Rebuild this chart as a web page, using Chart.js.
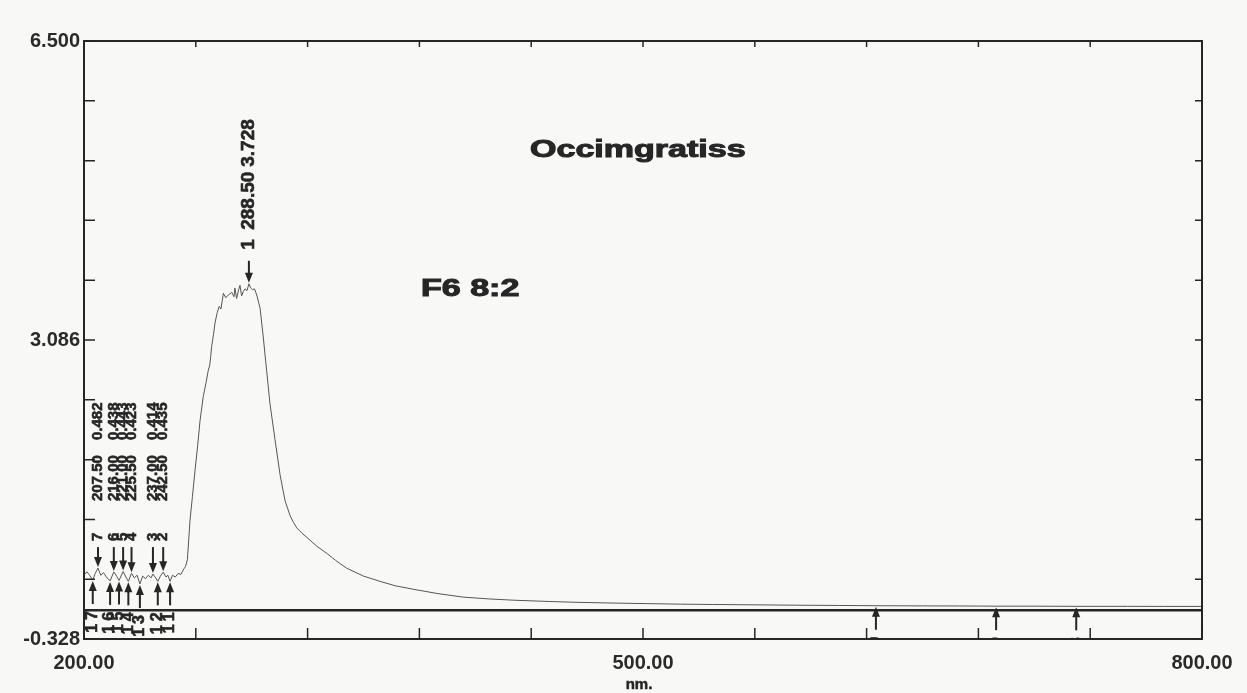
<!DOCTYPE html>
<html>
<head>
<meta charset="utf-8">
<title>Occimgratiss F6 8:2</title>
<script src="https://cdn.jsdelivr.net/npm/chart.js@4.4.1/dist/chart.umd.min.js"></script>
<style>
html, body { margin: 0; padding: 0; background: #f8f8f6; }
canvas { display: block; }
</style>
</head>
<body>
<canvas id="spectrum" width="1247" height="693"></canvas>
<script>
// UV-Vis scan, wavelength in nm and absorbance
const wavelengths = [
  200.0, 201.5, 203.0, 204.7, 206.0, 207.5, 209.0, 210.5, 212.0, 214.0,
  216.0, 217.5, 218.8, 221.0, 222.5, 223.8, 225.5, 227.0, 228.5, 230.0,
  231.5, 233.0, 234.5, 236.0, 237.0, 238.5, 239.6, 241.0, 242.5, 244.0,
  245.0, 246.2, 247.5, 249.0, 250.5, 252.0, 253.5, 254.5, 255.5, 256.9,
  258.2, 259.6, 261.0, 262.3, 264.0, 265.5, 266.7, 267.5, 268.0, 268.5,
  269.5, 270.3, 271.5, 272.6, 273.5, 274.8, 276.0, 277.5, 279.3, 280.5,
  281.0, 281.9, 283.0, 283.7, 284.6, 285.5, 286.4, 287.5, 288.5, 289.5,
  290.5, 291.5, 292.7, 294.5, 296.2, 298.0, 299.8, 302.5, 305.2, 307.9,
  310.6, 312.5, 314.2, 317.0, 321.3, 325.0, 330.3, 335.0, 341.0, 350.0,
  358.9, 367.0, 376.7, 390.0, 403.6, 417.0, 430.4, 450.0, 466.2, 485.0,
  502.0, 520.0, 537.8, 560.0, 582.5, 605.0, 625.0, 650.0, 670.0, 689.5,
  710.0, 732.5, 760.0, 780.0, 800.0
];
const absorbance = [
  0.400, 0.440, 0.400, 0.345, 0.420, 0.482, 0.400, 0.430, 0.380, 0.335,
  0.438, 0.390, 0.340, 0.443, 0.380, 0.330, 0.423, 0.370, 0.400, 0.300,
  0.390, 0.360, 0.400, 0.370, 0.414, 0.370, 0.330, 0.390, 0.435, 0.380,
  0.400, 0.330, 0.400, 0.380, 0.420, 0.410, 0.470, 0.500, 0.580, 1.030,
  1.300, 1.600, 1.880, 2.170, 2.440, 2.600, 2.740, 2.800, 2.900, 3.010,
  3.150, 3.280, 3.400, 3.470, 3.440, 3.620, 3.570, 3.600, 3.630, 3.580,
  3.680, 3.560, 3.660, 3.710, 3.590, 3.640, 3.670, 3.650, 3.728, 3.680,
  3.660, 3.670, 3.600, 3.450, 3.120, 2.740, 2.360, 1.950, 1.550, 1.250,
  1.080, 1.000, 0.940, 0.880, 0.800, 0.730, 0.650, 0.570, 0.480, 0.390,
  0.330, 0.280, 0.240, 0.190, 0.150, 0.130, 0.115, 0.100, 0.090, 0.082,
  0.076, 0.070, 0.066, 0.062, 0.058, 0.055, 0.052, 0.050, 0.049, 0.047,
  0.047, 0.045, 0.045, 0.044, 0.044
];

// picked peaks (down arrows) and valleys (up arrows)
const peakNo = [1, 2, 3, 4, 5, 6, 7];
const peakNm = [288.5, 242.5, 237.0, 225.5, 221.0, 216.0, 207.5];
const peakAbs = [3.728, 0.435, 0.414, 0.423, 0.443, 0.438, 0.482];

const valleyNo = [8, 9, 10, 11, 12, 13, 14, 15, 16, 17];
const valleyNm = [732.5, 689.5, 625.0, 246.2, 239.6, 230.0, 223.8, 218.8, 214.0, 204.7];
const valleyAbs = [0.045, 0.047, 0.052, 0.330, 0.330, 0.300, 0.330, 0.340, 0.335, 0.345];

// axis ticks
const xTicks = [200, 260, 320, 380, 440, 500, 560, 620, 680, 740, 800];
const xLabelled = [200, 500, 800];
const yTicks = [-0.328, 0.355, 1.037, 1.720, 2.403, 3.086, 3.769, 4.452, 5.134, 5.817, 6.500];
const yLabelled = [-0.328, 3.086, 6.500];

const ink = '#262626';
const fontFamily = '"Liberation Sans", Arial, sans-serif';
const spectrumPoints = wavelengths.map((w, i) => ({ x: w, y: absorbance[i] }));

// heavy text: fill plus a thin stroke of the same colour
function heavyText(ctx, text, x, y, weight) {
    ctx.lineWidth = weight;
    ctx.strokeText(text, x, y);
    ctx.fillText(text, x, y);
}

function vText(ctx, text, x, yBottom, font, spacing) {
    ctx.save();
    ctx.translate(x, yBottom);
    ctx.rotate(-Math.PI / 2);
    ctx.font = font;
    ctx.letterSpacing = spacing || '0px';
    ctx.textAlign = 'left';
    ctx.textBaseline = 'middle';
    heavyText(ctx, text, 0, 0, 0.6);
    ctx.restore();
}

function textWidth(ctx, text, font, spacing) {
    ctx.save();
    ctx.font = font;
    ctx.letterSpacing = spacing || '0px';
    const w = ctx.measureText(text).width;
    ctx.restore();
    return w;
}

function arrow(ctx, x, yFrom, yTo) {
    const dir = yTo > yFrom ? 1 : -1;
    ctx.beginPath();
    ctx.moveTo(x, yFrom);
    ctx.lineTo(x, yTo - dir * 6);
    ctx.stroke();
    ctx.beginPath();
    ctx.moveTo(x, yTo);
    ctx.lineTo(x - 4, yTo - dir * 10);
    ctx.lineTo(x + 4, yTo - dir * 10);
    ctx.closePath();
    ctx.fill();
}

const overlay = {
    id: 'overlay',
    afterDraw(chart) {
        const { ctx, chartArea: a, scales } = chart;
        const xs = scales.x, ys = scales.y;
        ctx.save();
        ctx.strokeStyle = ink;
        ctx.fillStyle = ink;

        // frame + inward ticks
        ctx.lineWidth = 2;
        ctx.strokeRect(a.left, a.top, a.right - a.left, a.bottom - a.top);
        ctx.lineWidth = 1.5;
        xTicks.forEach(v => {
            const px = xs.getPixelForValue(v);
            ctx.beginPath();
            ctx.moveTo(px, a.bottom); ctx.lineTo(px, a.bottom - 11);
            ctx.moveTo(px, a.top); ctx.lineTo(px, a.top + 6);
            ctx.stroke();
        });
        yTicks.forEach(v => {
            const py = ys.getPixelForValue(v);
            ctx.beginPath();
            ctx.moveTo(a.left, py); ctx.lineTo(a.left + 11, py);
            ctx.moveTo(a.right, py); ctx.lineTo(a.right - 7, py);
            ctx.stroke();
        });

        // peak markers
        const smallMax = Math.max(...peakAbs.filter(v => v < 1));
        const rowY = ys.getPixelForValue(smallMax);
        peakNo.forEach((n, i) => {
            const px = xs.getPixelForValue(peakNm[i]);
            const tip = ys.getPixelForValue(peakAbs[i]) - 1;
            ctx.lineWidth = 2;
            if (peakAbs[i] > 1) {
                arrow(ctx, px, tip - 22, tip);
                const b = tip - 33;
                const f = 'bold 19px ' + fontFamily;
                vText(ctx, String(n), px, b, f);
                vText(ctx, peakNm[i].toFixed(2), px, b - 20, f);
                vText(ctx, peakAbs[i].toFixed(3), px, b - 83, f);
            } else {
                arrow(ctx, px, rowY - 21, tip);
                const b = rowY - 27;
                const f = 'bold 15px ' + fontFamily;
                vText(ctx, String(n), px, b, f);
                vText(ctx, peakNm[i].toFixed(2), px, b - 40, f);
                vText(ctx, peakAbs[i].toFixed(3), px, b - 101, f);
            }
        });

        // valley markers, labels clipped at the frame
        ctx.save();
        ctx.beginPath();
        ctx.rect(a.left, a.top, a.right - a.left, a.bottom - a.top - 1);
        ctx.clip();
        const vf = 'bold 16px ' + fontFamily;
        valleyNo.forEach((n, i) => {
            const px = xs.getPixelForValue(valleyNm[i]);
            const tip = ys.getPixelForValue(valleyAbs[i]) + 1;
            ctx.lineWidth = 2;
            arrow(ctx, px, tip + 23, tip);
            const label = String(n);
            const w = textWidth(ctx, label, vf, '4px');
            vText(ctx, label, px, tip + 26 + w, vf, '4px');
        });
        ctx.restore();

        // sample captions
        ctx.font = 'bold 23px ' + fontFamily;
        ctx.textBaseline = 'alphabetic';
        ctx.textAlign = 'left';
        ctx.save();
        ctx.translate(530, 157);
        ctx.scale(1.48, 1);
        heavyText(ctx, 'Occimgratiss', 0, 0, 1);
        ctx.restore();
        ctx.save();
        ctx.translate(421, 296);
        ctx.scale(1.48, 1);
        heavyText(ctx, 'F6 8:2', 0, 0, 1);
        ctx.restore();

        // axis unit
        ctx.font = 'bold 15px ' + fontFamily;
        ctx.textAlign = 'center';
        heavyText(ctx, 'nm.', xs.getPixelForValue(500) - 4, 689, 0.5);
        ctx.restore();
    }
};

const tickFont = { family: fontFamily, size: 20, weight: 'bold' };

new Chart(document.getElementById('spectrum'), {
    type: 'line',
    data: {
        datasets: [
            {
                data: spectrumPoints,
                borderColor: '#555555',
                borderWidth: 1,
                pointRadius: 0,
                tension: 0
            },
            {
                // zero line
                data: [{ x: 200, y: 0 }, { x: 800, y: 0 }],
                borderColor: '#262626',
                borderWidth: 2.5,
                pointRadius: 0
            }
        ]
    },
    options: {
        responsive: false,
        animation: false,
        events: [],
        layout: { padding: { left: 0, right: 45, top: 41, bottom: 0 } },
        plugins: { legend: { display: false }, tooltip: { enabled: false } },
        scales: {
            x: {
                type: 'linear',
                min: 200,
                max: 800,
                afterBuildTicks: s => { s.ticks = xTicks.map(v => ({ value: v })); },
                afterFit: s => { s.height = 54; },
                grid: { display: false, drawTicks: false },
                border: { display: false },
                ticks: {
                    autoSkip: false,
                    maxRotation: 0,
                    padding: 12,
                    color: '#2a2a2a',
                    font: tickFont,
                    callback: v => xLabelled.some(t => Math.abs(t - v) < 1e-6) ? v.toFixed(2) : ''
                }
            },
            y: {
                min: -0.328,
                max: 6.5,
                afterBuildTicks: s => { s.ticks = yTicks.map(v => ({ value: v })); },
                afterFit: s => { s.width = 84; },
                grid: { display: false, drawTicks: false },
                border: { display: false },
                ticks: {
                    autoSkip: false,
                    padding: 4,
                    color: '#2a2a2a',
                    font: tickFont,
                    callback: v => yLabelled.some(t => Math.abs(t - v) < 1e-6) ? v.toFixed(3) : ''
                }
            }
        }
    },
    plugins: [overlay]
});
</script>
</body>
</html>
